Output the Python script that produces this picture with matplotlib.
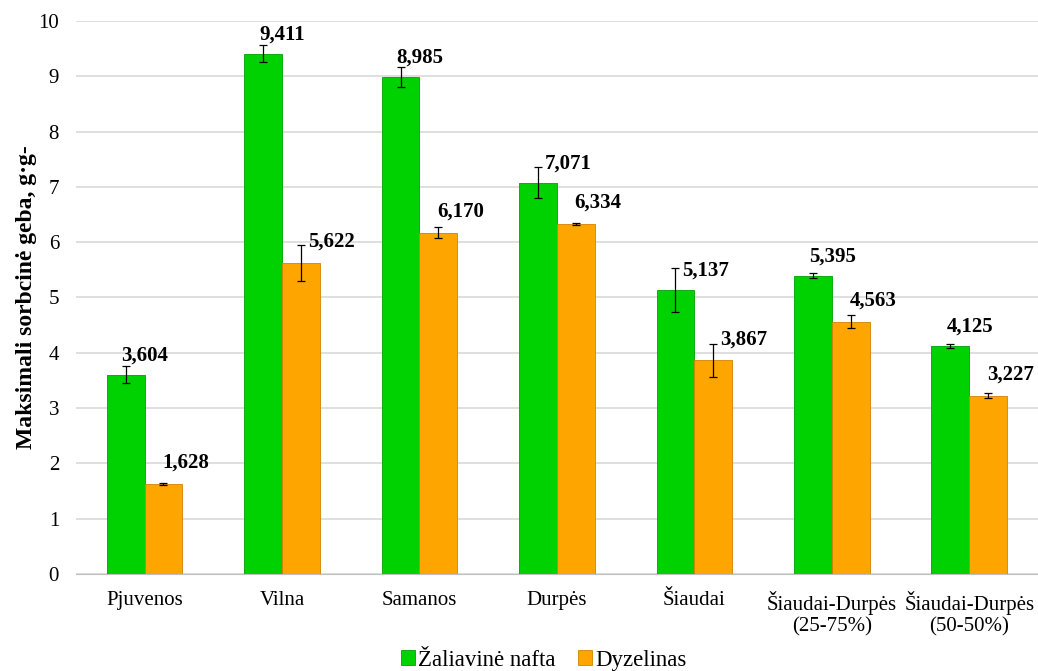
import matplotlib.pyplot as plt
import numpy as np

plt.rcParams['font.family'] = ['Liberation Serif', 'DejaVu Serif']

categories = ['Pjuvenos', 'Vilna', 'Samanos', 'Durpės', 'Šiaudai',
              'Šiaudai-Durpės\n(25-75%)', 'Šiaudai-Durpės\n(50-50%)']
nafta = [3.604, 9.411, 8.985, 7.071, 5.137, 5.395, 4.125]
nafta_err = [0.15, 0.15, 0.18, 0.28, 0.40, 0.04, 0.04]
dyzelinas = [1.628, 5.622, 6.170, 6.334, 3.867, 4.563, 3.227]
dyzelinas_err = [0.02, 0.33, 0.10, 0.02, 0.30, 0.12, 0.05]
labels_nafta = ['3,604', '9,411', '8,985', '7,071', '5,137', '5,395', '4,125']
labels_dyz = ['1,628', '5,622', '6,170', '6,334', '3,867', '4,563', '3,227']

fig = plt.figure(figsize=(10.38, 6.71), dpi=100)
ax = fig.add_axes([0.073, 0.1446, 0.927, 0.8241])

x = np.arange(len(categories))
w = 0.275
green = '#00D100'
orange = '#FFA500'

ax.bar(x - w/2, nafta, w, color=green, edgecolor='#00A000', linewidth=0.6,
       yerr=nafta_err, error_kw=dict(ecolor='black', elinewidth=0.9, capsize=3, capthick=0.9),
       label='Žaliavinė nafta', zorder=3)
ax.bar(x + w/2, dyzelinas, w, color=orange, edgecolor='#D08400', linewidth=0.6,
       yerr=dyzelinas_err, error_kw=dict(ecolor='black', elinewidth=0.9, capsize=3, capthick=0.9),
       label='Dyzelinas', zorder=3)


def put_label(xc, val, err, txt, dx, dy):
    # label goes beside a long error bar, otherwise above the bar
    if err > 0.2:
        ax.text(xc + 0.05, val + dy, txt, ha='left', va='center',
                fontsize=15, fontweight='bold', zorder=4)
    else:
        ax.text(xc + dx, val + dy, txt, ha='center', va='center',
                fontsize=15, fontweight='bold', zorder=4)


for i in range(len(categories)):
    put_label(x[i] - w/2, nafta[i], nafta_err[i], labels_nafta[i], 0.14, 0.35)
    put_label(x[i] + w/2, dyzelinas[i], dyzelinas_err[i], labels_dyz[i], 0.16, 0.38)

ax.set_xlim(-0.5, len(categories) - 0.5)
ax.set_ylim(0, 10)
ax.set_yticks(range(0, 11))
ax.set_xticks(x)
ax.set_xticklabels(categories, fontsize=15)
ax.tick_params(axis='y', labelsize=15, length=0, pad=12)
ax.tick_params(axis='x', length=0, pad=12)
ax.grid(axis='y', color='#D9D9D9', linewidth=1.2, zorder=0)
for s in ['top', 'right', 'left']:
    ax.spines[s].set_visible(False)
ax.spines['bottom'].set_color('#BFBFBF')
ax.set_ylabel('Maksimali sorbcinė geba, g·g-', fontsize=17, fontweight='bold', labelpad=1)

fig.legend(loc='lower center', bbox_to_anchor=(0.524, -0.03), ncol=2, frameon=False,
           fontsize=16.5, handlelength=0.6, handleheight=0.6, handletextpad=0.15, columnspacing=1.0)

fig.savefig('out.png', dpi=100)
